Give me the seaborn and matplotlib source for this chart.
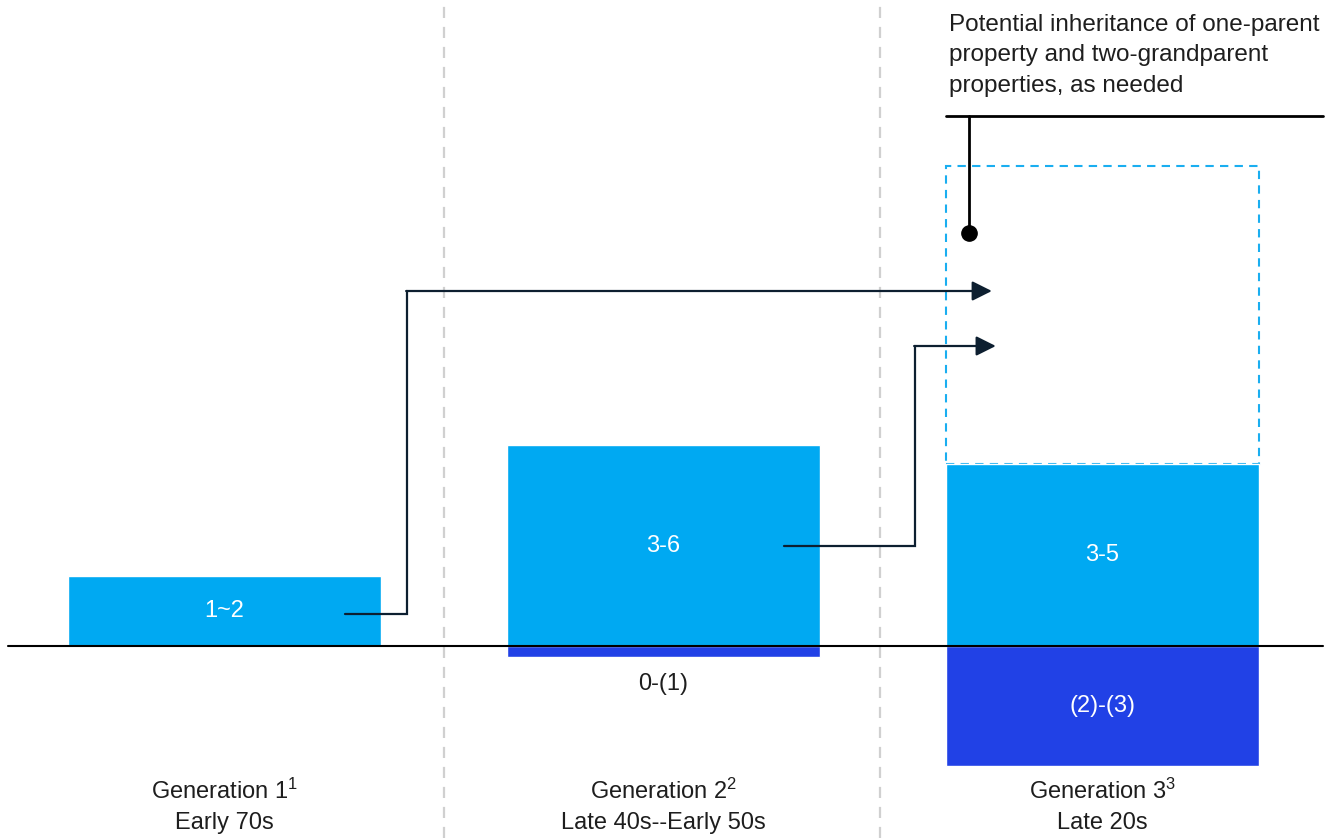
import numpy as np
import pandas as pd
import matplotlib
matplotlib.use('Agg')
import matplotlib.pyplot as plt
import seaborn as sns
from matplotlib.patches import Rectangle

# values (arbitrary units, baseline = 0)
generations = ['Generation 1', 'Generation 2', 'Generation 3']
gen_notes = ['1', '2', '3']
age_labels = ['Early 70s', 'Late 40s--Early 50s', 'Late 20s']
positive_vals = [7.0, 20.1, 18.2]
negative_vals = [0.0, -1.1, -12.0]
positive_labels = ['1~2', '3-6', '3-5']
negative_labels = ['', '0-(1)', '(2)-(3)']
potential_top = 48.0

LIGHT = '#00A9F2'
DARK = '#2141E6'
NAVY = '#0D1F30'
TXT = '#1E1E1E'
BAR_W = 0.712

sns.set_theme(style='white')
plt.rcParams['font.family'] = ['Liberation Sans', 'DejaVu Sans']
plt.rcParams['mathtext.fontset'] = 'custom'
plt.rcParams['mathtext.rm'] = 'Liberation Sans'

fig = plt.figure(figsize=(13.33, 8.38), dpi=100)
ax = fig.add_axes([0, 0, 1, 1])

df = pd.DataFrame({'gen': generations, 'pos': positive_vals, 'neg': negative_vals})
sns.barplot(data=df, x='gen', y='pos', color=LIGHT, saturation=1, width=BAR_W, ax=ax, zorder=3)
sns.barplot(data=df, x='gen', y='neg', color=DARK, saturation=1, width=BAR_W, ax=ax, zorder=3)

ax.set_xlim(-0.511, 2.525)
ax.set_ylim(-19.2, 64.6)
ax.axis('off')

# dividers between generations
for xd in [0.5, 1.493]:
    ax.axvline(xd, color='#D0D0D0', lw=1.6, linestyle=(0, (5, 4)), zorder=1)

# baseline
ax.plot([-0.493, 2.502], [0, 0], color='black', lw=1.5, zorder=4)

# potential inheritance box
ax.add_patch(Rectangle((2 - BAR_W / 2, positive_vals[2]), BAR_W, potential_top - positive_vals[2],
                       fill=False, edgecolor='#1AAEF0', lw=1.5, linestyle=(0, (4, 3)), zorder=2))

# value labels
for i in range(3):
    ax.text(i, positive_vals[i] / 2, positive_labels[i], color='white', fontsize=17,
            ha='center', va='center', zorder=5)
ax.text(1, -3.8, negative_labels[1], color=TXT, fontsize=17, ha='center', va='center')
ax.text(2, negative_vals[2] / 2, negative_labels[2], color='white', fontsize=17,
        ha='center', va='center', zorder=5)

# generation labels
for i in range(3):
    ax.text(i, -14.5, generations[i] + r'$\mathregular{^{' + gen_notes[i] + '}}$', color=TXT,
            fontsize=17, ha='center', va='center')
    ax.text(i, -17.7, age_labels[i], color=TXT, fontsize=17, ha='center', va='center')

# connectors: gen1 -> gen3, gen2 -> gen3
connectors = [((0.274, 3.2), 0.416, 35.5, 1.748), ((1.274, 10.0), 1.573, 30.0, 1.757)]
for (x0, y0), xc, yt, xtip in connectors:
    ax.plot([x0, xc, xc], [y0, y0, yt], color=NAVY, lw=1.6, zorder=6, solid_joinstyle='miter')
    ax.annotate('', xy=(xtip, yt), xytext=(xc - 0.002, yt),
                arrowprops=dict(arrowstyle='-|>,head_length=0.6,head_width=0.3', color=NAVY,
                                lw=1.6, shrinkA=0, shrinkB=0, mutation_scale=20), zorder=6)

# callout for potential inheritance
ax.plot([1.643, 2.502], [53.0, 53.0], color='black', lw=2, zorder=6)
ax.plot([1.696, 1.696], [53.0, 41.3], color='black', lw=2, zorder=6)
ax.plot([1.696], [41.3], marker='o', markersize=11, color='black', zorder=7)
ax.text(1.650, 63.2, 'Potential inheritance of one-parent\nproperty and two-grandparent\nproperties, as needed',
        fontsize=17.5, color=TXT, ha='left', va='top', linespacing=1.5)

fig.savefig('out.png', dpi=100)
